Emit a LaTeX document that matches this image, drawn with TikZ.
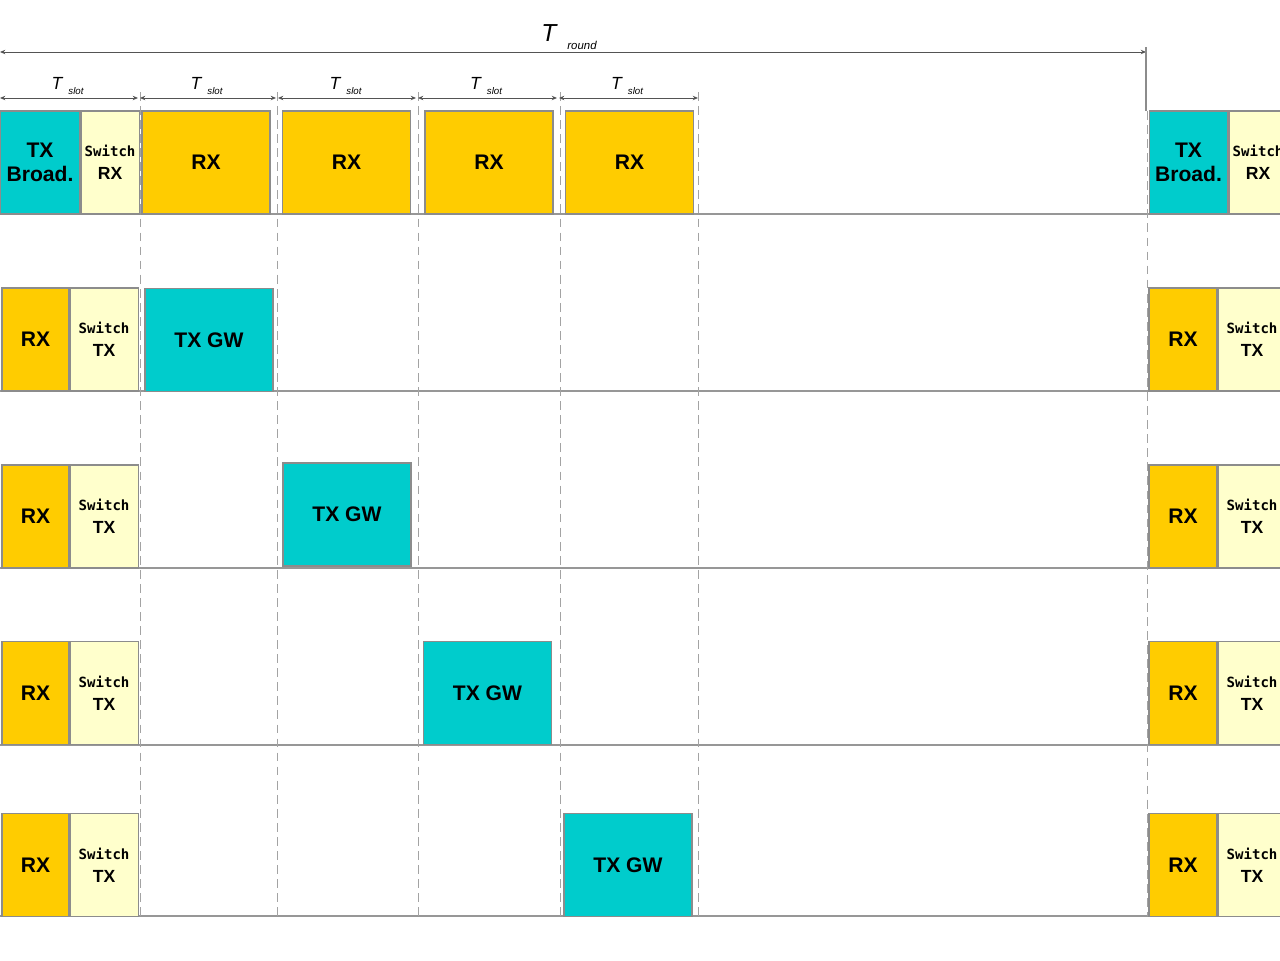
\documentclass[tikz,border=0pt]{standalone}
\usepackage{fontspec}
\setmainfont{Liberation Sans}
\newfontfamily\monofont{DejaVu Sans Mono}
\usetikzlibrary{arrows.meta,positioning}

\definecolor{txcyan}{HTML}{00CCCC}
\definecolor{rxgold}{HTML}{FFCC00}
\definecolor{swpale}{HTML}{FFFFCC}
\definecolor{edgegray}{HTML}{8C8C8C}

\newcommand{\sw}{{\monofont\fontsize{8}{13}\selectfont Switch}}

\tikzset{
  box/.style={draw=edgegray,line width=0.6pt,inner sep=0,align=center,
    font=\bfseries\fontsize{12}{13.5}\selectfont,minimum height=2.06cm},
  txbox/.style={box,fill=txcyan},
  rxbox/.style={box,fill=rxgold},
  swbox/.style={box,fill=swpale,font=\bfseries\fontsize{10}{13}\selectfont},
  dim/.style={edgegray!60!black,line width=0.5pt,
    {Stealth[length=3pt,width=2.5pt]}-{Stealth[length=3pt,width=2.5pt]}},
  slotline/.style={edgegray!80,line width=0.5pt,dash pattern=on 5pt off 3pt},
  rowline/.style={edgegray!90,line width=0.7pt},
  tlab/.style={inner sep=0,font=\itshape\fontsize{10}{10}\selectfont},
  sublab/.style={inner sep=0,font=\itshape\fontsize{5.5}{5.5}\selectfont},
}

\begin{document}
\begin{tikzpicture}[x=0.02cm,y=-0.02cm]
  \useasboundingbox (0,0) rectangle (1280,960);

  % row lines and slot borders
  \foreach \y in {214,391,568,745,916}
    \draw[rowline] (0,\y) -- (1280,\y);
  \foreach \x in {140,277,418,560,698}
    \draw[slotline] (\x,92) -- (\x,916);
  \draw[slotline] (1147,111) -- (1147,916);

  % round
  \coordinate (rstart) at (0,52);
  \coordinate (rend) at (1146,52);
  \draw[dim] (rstart) -- (rend);
  \draw[edgegray,line width=0.6pt] (1146,47) -- (1146,111);
  \node[tlab,font=\itshape\fontsize{14}{14}\selectfont] (tr) at (549,33) {T};
  \node[sublab,font=\itshape\fontsize{6.5}{6.5}\selectfont] (trsub) at (582,45) {round};

  % slots
  \foreach \a/\b/\n in {0/138/1,140/276/2,278/416/3,418/557/4,559/698/5}{
    \coordinate (s\n a) at (\a,98);
    \coordinate (s\n b) at (\b,98);
    \draw[dim] (s\n a) -- (s\n b);
    \node[tlab] (ts\n) at ({(\a+\b)/2-12},83) {T};
    \node[sublab] (tsub\n) at ({(\a+\b)/2+7},91) {slot};
  }

  % broadcast row
  \node[txbox,minimum width=1.6cm] (txb) at (40,162.5) {TX\\Broad.};
  \node[swbox,minimum width=1.16cm,right=0pt of txb] (swrx) {\sw\\RX};
  \foreach \x/\n in {206/1,346.5/2,489/3,629.5/4}
    \node[rxbox,minimum width=2.56cm] (rx\n) at (\x,162.5) {RX};
  \node[txbox,minimum width=1.58cm] (txbr) at (1188.5,162.5) {TX\\Broad.};
  \node[swbox,minimum width=1.16cm,right=0pt of txbr] (swrxr) {\sw\\RX};

  % node rows
  \foreach \y/\gx/\gy/\n in {339.5/209/340/2,516.5/347/514.5/3,693/487.5/693/4,865/628/865/5}{
    \node[rxbox,minimum width=1.34cm] (rxa\n) at (35.5,\y) {RX};
    \node[swbox,minimum width=1.36cm,right=0pt of rxa\n] (swa\n) {\sw\\TX};
    \node[txbox,minimum width=2.56cm] (gw\n) at (\gx,\gy) {TX GW};
    \node[rxbox,minimum width=1.36cm] (rxb\n) at (1183,\y) {RX};
    \node[swbox,minimum width=1.36cm,right=0pt of rxb\n] (swb\n) {\sw\\TX};
  }

\end{tikzpicture}
\end{document}
